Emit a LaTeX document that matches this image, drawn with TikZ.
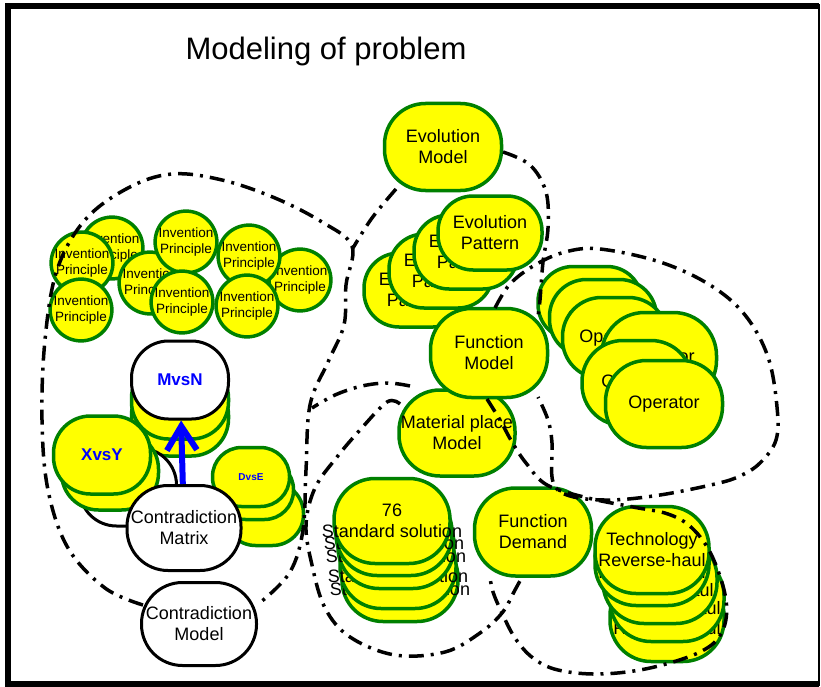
\documentclass[tikz,border=0pt]{standalone}
\usepackage{fontspec}
\setmainfont{Liberation Sans}
\usetikzlibrary{arrows.meta}
\definecolor{leafgreen}{RGB}{0,128,0}
\definecolor{pureblue}{RGB}{0,0,255}
\definecolor{lemon}{RGB}{255,255,0}

\begin{document}
\begin{tikzpicture}[x=1pt,y=-1pt]

	\tikzstyle{blob} = [draw=leafgreen, fill=lemon, line width=3.5pt, inner sep=0pt, align=center, font=\fontsize{18}{21}\selectfont]
	\tikzstyle{blob_white} = [draw=black, fill=white, line width=3pt]
	\tikzstyle{principle} = [blob, circle, minimum size=61pt, font=\fontsize{13.5}{16.5}\selectfont]
	\tikzstyle{model} = [blob, rounded corners=41pt, minimum width=117pt, minimum height=87pt]
	\tikzstyle{pattern} = [blob, rounded corners=35pt, minimum width=104pt, minimum height=74pt]
	\tikzstyle{pair} = [blob, rounded corners=37pt, minimum width=97pt, minimum height=78pt, text=pureblue, font=\fontsize{17}{20}\selectfont\bfseries]
	\tikzstyle{loop_line} = [line width=3.5pt, dash pattern=on 15pt off 7pt on 3pt off 7pt]

	\useasboundingbox (0,0) rectangle (821,687);
	\draw[line width=6pt] (819,6) -- (8,6) -- (8,684) -- (819,684);
	\draw[line width=2pt] (819,4) -- (819,686);

	\node[anchor=base, font=\fontsize{31}{36}\selectfont] (title) at (326,60) {Modeling of problem};

%------------------------------------------------------------
	\node[principle] (ip0) at (112,248) {Invention\\Principle};
	\node[principle] (ip1) at (82,263)  {Invention\\Principle};
	\node[principle] (ip2) at (81,310)  {Invention\\Principle};
	\node[principle] (ip3) at (150,283) {Invention\\Principle};
	\node[principle] (ip4) at (186,242) {Invention\\Principle};
	\node[principle] (ip5) at (182,302) {Invention\\Principle};
	\node[principle] (ip6) at (300,280) {Invention\\Principle};
	\node[principle] (ip7) at (249,256) {Invention\\Principle};
	\node[principle] (ip8) at (247,306) {Invention\\Principle};

%------------------------------------------------------------
	\node[pattern] (ep0) at (416,290) {Evolution\\Pattern};
	\node[pattern] (ep1) at (441,271) {Evolution\\Pattern};
	\node[pattern] (ep2) at (466,252) {Evolution\\Pattern};
	\node[pattern] (ep3) at (490,233) {Evolution\\Pattern};

	\node[model] (em) at (443,147) {Evolution\\Model};

%------------------------------------------------------------
	\node[model, minimum width=116pt, minimum height=86pt] (mp) at (457,433) {Material place\\Model};
	\node[model, minimum height=89pt] (fm) at (489,353) {Function\\Model};

	\node[model, rounded corners=35pt, minimum width=104pt, minimum height=73pt] (op0) at (590,303) {Operator};
	\node[model, rounded corners=37pt, minimum width=107pt, minimum height=77pt] (op1) at (603,318) {Operator};
	\node[model, rounded corners=39pt, minimum width=105pt, minimum height=81pt] (op2) at (615,338) {Operator};
	\node[model, rounded corners=43pt, minimum width=115pt, minimum height=91pt] (op3) at (659,358) {Operator};
	\node[model, minimum width=110pt, minimum height=85pt] (op4) at (637,383) {Operator};
	\node[model] (op5) at (664,404) {Operator};

%------------------------------------------------------------
	\node[model, minimum width=116pt, minimum height=85pt] (ss0) at (400,579) {76\\\makebox[0pt]{Standard solution}};
	\node[model, minimum width=116pt, minimum height=85pt] (ss1) at (398,566) {76\\\makebox[0pt]{Standard solution}};
	\node[model, minimum width=116pt, minimum height=85pt] (ss2) at (396,546) {76\\\makebox[0pt]{Standard solution}};
	\node[model, minimum width=116pt, minimum height=85pt] (ss3) at (394,533) {76\\\makebox[0pt]{Standard solution}};
	\node[model, minimum width=116pt, minimum height=85pt] (ss4) at (392,521) {76\\\makebox[0pt]{Standard solution}};

	\node[model, minimum height=88pt] (fd) at (533,532) {Function\\Demand};

	\node[model, minimum width=114pt] (tr0) at (667,618) {Technology\\Reverse-haul};
	\node[model, minimum width=114pt] (tr1) at (667,598) {Technology\\Reverse-haul};
	\node[model, minimum width=114pt] (tr2) at (660,580) {Technology\\Reverse-haul};
	\node[model, minimum width=114pt] (tr3) at (652,562) {Technology\\Reverse-haul};
	\node[model, minimum width=114pt] (tr4) at (652,550) {Technology\\Reverse-haul};

%------------------------------------------------------------
	\node[pair] (mn0) at (180,417) {};
	\node[pair] (mn1) at (180,400) {};
	\node[pair, blob_white] (mn2) at (180,380) {MvsN};

	\node[pair, blob_white] (xy0) at (128,487) {};
	\node[pair] (xy1) at (110,471) {};
	\node[pair] (xy2) at (102,455) {XvsY};

	\node[pair, rounded corners=31pt, minimum width=79pt, minimum height=63pt] (de0) at (264,514) {};
	\node[pair, rounded corners=29pt, minimum width=77pt, minimum height=59pt] (de1) at (255,490) {};
	\node[pair, rounded corners=29pt, minimum width=77pt, minimum height=59pt, font=\fontsize{10}{12}\selectfont\bfseries] (de2) at (251,477) {DvsE};

	\node[model, blob_white, minimum width=114pt, minimum height=85pt] (cm) at (184,528) {Contradiction\\Matrix};
	\draw[pureblue, line width=6pt, -{Straight Barb[length=24pt, width=30pt]}] (cm) -- (mn2);

	\node[model, blob_white, minimum width=115pt, minimum height=83pt] (cmod) at (199,624) {Contradiction\\Model};

%------------------------------------------------------------
	\draw[loop_line] plot[smooth, tension=0.6] coordinates {(143,605) (105,588) (68,548) (48,490) (42,420) (45,340) (57,270) (85,220) (128,188) (172,174) (222,180) (275,198) (322,222) (352,246) (346,285) (344,325) (328,362) (310,405) (306,470) (303,530) (290,572) (262,601)};
	\draw[loop_line] plot[smooth, tension=0.6] coordinates {(396,189) (372,218) (353,248)};
	\draw[loop_line] plot[smooth, tension=0.6] coordinates {(503,152) (530,165) (546,192) (548,228) (543,262) (540,300) (538,316)};
	\draw[loop_line] plot[smooth, tension=0.6] coordinates {(495,308) (510,284) (535,265) (565,252) (600,249) (660,262) (710,285) (745,315) (768,357) (777,407) (776,440) (760,463) (740,476) (715,484) (660,495) (610,500) (570,496) (553,482) (552,443) (548,420) (538,397)};
	\draw[loop_line] plot[smooth, tension=0.6] coordinates {(487,399) (500,420) (512,442) (526,463) (547,485) (588,498) (633,507) (668,514) (692,528) (712,556) (726,600) (722,632) (700,652) (650,668) (600,674) (558,670) (533,658) (515,638) (502,613) (493,592) (490,577)};
	\draw[loop_line] plot[smooth, tension=0.6] coordinates {(400,404) (387,402) (360,430) (337,457) (315,488) (306,525) (312,565) (325,608) (350,637) (395,655) (445,652) (480,633) (502,613) (515,590) (522,577)};
	\draw[loop_line] plot[smooth, tension=0.6] coordinates {(410,386) (388,383) (362,386) (335,395) (312,408)};

\end{tikzpicture}
\end{document}
